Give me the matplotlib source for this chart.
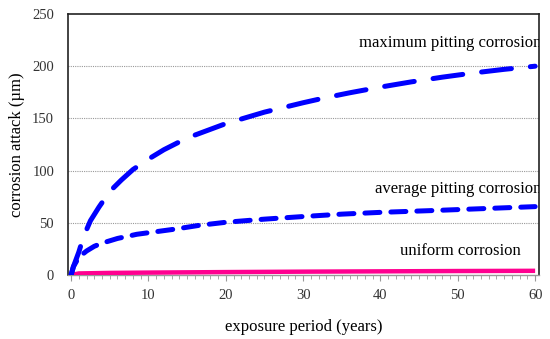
import numpy as np
import matplotlib
matplotlib.use("Agg")
import matplotlib.pyplot as plt
from matplotlib.ticker import MultipleLocator

# ── Data ─────────────────────────────────────────────────────
max_years = [0.0, 0.3, 1.0, 1.6, 2.5, 3.6, 5.0, 6.5, 8.0, 10.0, 12.0, 14.0, 16.0,
             18.0, 20.0, 22.5, 25.0, 27.5, 30.0, 33.0, 36.0, 40.0, 44.0, 48.0,
             52.0, 56.0, 60.0]
max_pit = [0.0, 8.0, 22.0, 36.5, 52.0, 65.0, 80.0, 91.0, 101.0, 111.0, 120.0,
           127.5, 134.0, 139.5, 145.0, 150.5, 156.0, 160.5, 165.0, 170.0, 174.5,
           180.0, 185.0, 189.5, 193.5, 197.0, 200.0]

avg_years = [0.0, 0.3, 1.0, 2.0, 3.0, 4.0, 6.0, 8.5, 11.5, 13.5, 16.5, 20.0,
             25.0, 30.0, 35.0, 40.0, 47.0, 53.0, 60.0]
avg_pit = [0.0, 8.0, 17.0, 23.0, 27.5, 30.5, 35.0, 39.0, 42.0, 44.0, 47.5, 50.5,
           53.5, 56.0, 58.3, 60.0, 61.8, 63.5, 65.5]

uni_years = [0.0, 1.0, 5.0, 10.0, 20.0, 30.0, 40.0, 50.0, 60.0]
uniform = [0.0, 1.5, 2.0, 2.3, 2.8, 3.2, 3.5, 3.8, 4.0]

plt.rcParams["font.family"] = ["Liberation Serif", "DejaVu Serif"]

fig = plt.figure(figsize=(5.5, 3.39), dpi=100)
ax = fig.add_axes([68 / 550, 1 - 275 / 339, (539 - 68) / 550, (275 - 14) / 339])

blue = "#0000ff"
pink = "#ff0090"

ax.plot(uni_years, uniform, color=pink, lw=3.2, solid_capstyle="butt", zorder=3)
ax.plot(avg_years, avg_pit, color=blue, lw=3.6, dashes=(3.0, 2.2),
        dash_capstyle="round", zorder=4)
ax.plot(max_years, max_pit, color=blue, lw=3.6, dashes=(6.0, 3.8),
        dash_capstyle="round", zorder=4)

ax.text(60.8, 222, "maximum pitting corrosion", ha="right", va="center",
        fontsize=12, clip_on=True)
ax.text(60.8, 82, "average pitting corrosion", ha="right", va="center",
        fontsize=12, clip_on=True)
ax.text(58.1, 23, "uniform corrosion", ha="right", va="center", fontsize=12)

ax.set_xlim(-0.4, 60.5)
ax.set_ylim(0, 250)
ax.xaxis.set_major_locator(MultipleLocator(10))
ax.xaxis.set_minor_locator(MultipleLocator(1))
ax.yaxis.set_major_locator(MultipleLocator(50))

for y in (50, 100, 150, 200):
    ax.axhline(y, color="#999999", lw=0.8, ls=(0, (1, 1)), zorder=1)

for side in ("left", "top", "right"):
    ax.spines[side].set_color("#222222")
    ax.spines[side].set_linewidth(1.2)
ax.spines["bottom"].set_color("#999999")
ax.spines["bottom"].set_linewidth(1.0)

ax.tick_params(axis="x", which="both", direction="out", color="#999999",
               labelsize=10.5, labelcolor="#333333", pad=6)
ax.tick_params(axis="x", which="major", length=4)
ax.tick_params(axis="x", which="minor", length=3)
ax.tick_params(axis="y", which="both", length=0, labelsize=10.5,
               labelcolor="#333333", pad=10)

ax.set_xlabel("exposure period (years)", fontsize=12, labelpad=12)
ax.set_ylabel("corrosion attack (µm)", fontsize=12, labelpad=5)

fig.savefig("out.png", dpi=100)
